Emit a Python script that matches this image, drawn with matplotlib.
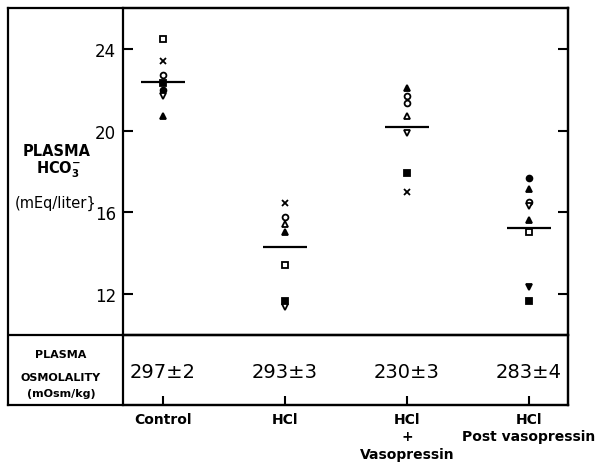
import matplotlib
matplotlib.use('Agg')
import matplotlib.pyplot as plt

plt.rcParams['font.family'] = ['DejaVu Sans']

W, H = 602, 464

# categories and the osmolality row
groups = ['Control', 'HCl', 'HCl\n+\nVasopressin', 'HCl\nPost vasopressin']
osmolality = ['297±2', '293±3', '230±3', '283±4']

# plasma HCO3 per dog (mEq/liter)
control_vals = [24.5, 23.4, 22.7, 22.35, 22.0, 21.7, 20.7]
control_marks = ['sq_o', 'x', 'ci_o', 'sq_f', 'ci_f', 'td_o', 'tu_f']
hcl_vals = [16.45, 15.75, 15.4, 15.05, 13.4, 11.65, 11.35]
hcl_marks = ['x', 'ci_o', 'tu_o', 'tu_f', 'sq_o', 'sq_f', 'td_o']
vaso_vals = [22.1, 21.7, 21.35, 20.7, 19.9, 17.9, 17.0]
vaso_marks = ['tu_f', 'ci_o', 'ci_o', 'tu_o', 'td_o', 'sq_f', 'x']
post_vals = [17.65, 17.15, 16.5, 16.3, 15.6, 15.05, 12.35, 11.65]
post_marks = ['ci_f', 'tu_f', 'ci_o', 'td_o', 'tu_f', 'sq_o', 'td_f', 'sq_f']
means = [22.4, 14.3, 20.15, 15.25]

styles = {
    'sq_o': dict(marker='s', mfc='white'),
    'sq_f': dict(marker='s', mfc='black'),
    'ci_o': dict(marker='o', mfc='white'),
    'ci_f': dict(marker='o', mfc='black'),
    'tu_o': dict(marker='^', mfc='white'),
    'tu_f': dict(marker='^', mfc='black'),
    'td_o': dict(marker='v', mfc='white'),
    'td_f': dict(marker='v', mfc='black'),
    'x': dict(marker='x', mfc='black'),
}


def box(x0, y0, x1, y1):
    # pixel box -> figure fraction rect
    return [x0 / W, 1 - y1 / H, (x1 - x0) / W, (y1 - y0) / H]


def px(x, y):
    return x / W, 1 - y / H


fig = plt.figure(figsize=(W / 100, H / 100), dpi=100)

left, right, top, mid, bottom = 123, 568, 9, 335.7, 406
xlim = (0.672, 4.32)

# outer frame
frame = fig.add_axes(box(8, top, right, bottom))
frame.set_xticks([])
frame.set_yticks([])
frame.patch.set_alpha(0)
for s in frame.spines.values():
    s.set_linewidth(1.6)
frame.axhline((bottom - mid) / (bottom - top), color='black', lw=1.6)

# upper panel
ax = fig.add_axes(box(left, top, right, mid))
ax.patch.set_alpha(0)
ax.set_xlim(*xlim)
ax.set_ylim(10, 26)
ax.set_xticks([])
ax.set_yticks([12, 16, 20, 24])
ax.tick_params(axis='y', direction='in', length=7, width=1.5, right=True,
               labelsize=12, pad=5)
for s in ax.spines.values():
    s.set_linewidth(1.6)

all_vals = [control_vals, hcl_vals, vaso_vals, post_vals]
all_marks = [control_marks, hcl_marks, vaso_marks, post_marks]
for i, (vals, marks) in enumerate(zip(all_vals, all_marks)):
    for v, m in zip(vals, marks):
        st = styles[m]
        ax.plot(i + 1, v, linestyle='none', color='black', mec='black',
                ms=4.2, mew=1.3, **st)
    ax.hlines(means[i], i + 1 - 0.18, i + 1 + 0.18, color='black', lw=1.6)

# osmolality row
tab = fig.add_axes(box(left, mid, right, bottom))
tab.patch.set_alpha(0)
tab.set_xlim(*xlim)
tab.set_ylim(0, 1)
tab.set_yticks([])
tab.set_xticks([1, 2, 3, 4])
tab.set_xticklabels(groups, fontsize=10, linespacing=1.3, fontweight='bold')
tab.tick_params(axis='x', direction='in', length=6.5, width=1.5, pad=5)
for s in tab.spines.values():
    s.set_linewidth(1.6)
for i, t in enumerate(osmolality):
    tab.text(i + 1, 0.48, t, ha='center', va='center', fontsize=14)

# left labels
fig.text(*px(57, 151), 'PLASMA', ha='center', va='center', fontsize=10.5,
         fontweight='bold')
fig.text(*px(59, 170), r'HCO$_{\mathbf{3}}^{\mathbf{-}}$', ha='center',
         va='center', fontsize=10.5, fontweight='bold')
fig.text(*px(56, 203), '(mEq/liter}', ha='center', va='center', fontsize=10.5)

fig.text(*px(61, 355), 'PLASMA', ha='center', va='center', fontsize=8,
         fontweight='bold')
fig.text(*px(61, 378), 'OSMOLALITY', ha='center', va='center', fontsize=8,
         fontweight='bold')
fig.text(*px(61, 394), '(mOsm/kg)', ha='center', va='center', fontsize=8,
         fontweight='bold')

fig.savefig('out.png', dpi=100)
